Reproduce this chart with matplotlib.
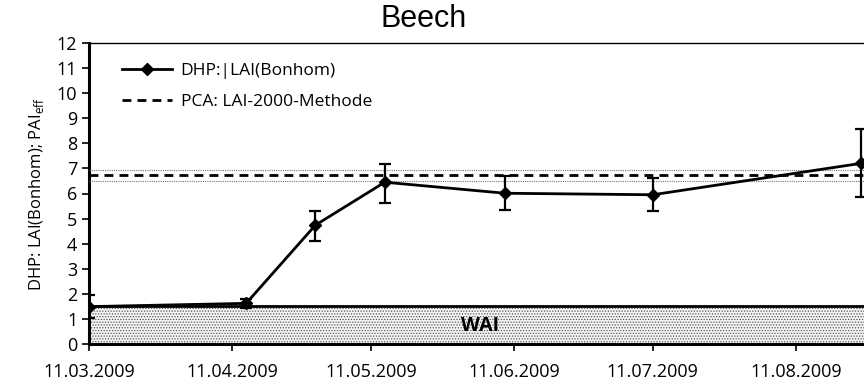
import matplotlib
matplotlib.use("Agg")
import matplotlib.pyplot as plt
import matplotlib.dates as mdates
import numpy as np
from datetime import datetime, timedelta

# Measurement dates and DHP LAI values (Bonhomme)
dates = ["2009-03-11", "2009-04-14", "2009-04-29", "2009-05-14",
         "2009-06-09", "2009-07-11", "2009-08-25"]
lai = [1.49, 1.62, 4.74, 6.45, 6.01, 5.95, 7.20]
lai_low = [1.04, 1.45, 4.11, 5.63, 5.34, 5.30, 5.85]
lai_high = [1.95, 1.79, 5.31, 7.17, 6.68, 6.62, 8.57]

# PCA (LAI-2000) mean and band, woody area index
pca_mean = 6.72
pca_band = [6.50, 6.94]
wai = 1.5

tick_dates = ["2009-03-11", "2009-04-11", "2009-05-11", "2009-06-11",
              "2009-07-11", "2009-08-11"]
x_start = "2009-03-11"
x_span_days = 167.7

to_dt = lambda s: datetime.fromisoformat(s)
x = [to_dt(d) for d in dates]
yerr = [np.array(lai) - np.array(lai_low), np.array(lai_high) - np.array(lai)]

plt.rcParams["font.family"] = ["Open Sans", "DejaVu Sans"]
fig = plt.figure(figsize=(8.64, 3.84), dpi=100)
ax = fig.add_axes([89 / 864, 1 - 344 / 384, 1 - 89 / 864, 301 / 384])

x0 = to_dt(x_start)
x1 = x0 + timedelta(days=x_span_days)
ax.set_xlim(x0, x1)
ax.set_ylim(0, 12)

# WAI stippled band
plt.rcParams["hatch.linewidth"] = 0.6
ax.fill_between([x0 - timedelta(days=5), x1 + timedelta(days=5)], 0, wai,
                facecolor="#f4f4f4", edgecolor="#555555", hatch="......",
                linewidth=0, zorder=1)
ax.axhline(wai, color="black", lw=2.0, zorder=2)
ax.text(x0 + (x1 - x0) * 0.505, 0.72, "WAI", ha="center", va="center",
        fontsize=14, fontweight="bold", zorder=3)

# PCA reference lines
ax.axhline(pca_mean, color="black", lw=2.0, ls=(0, (3.2, 2.2)), zorder=3,
           label="PCA: LAI-2000-Methode")
for b in pca_band:
    ax.axhline(b, color="#777777", lw=0.8, ls=(0, (1, 1)), zorder=3)

# DHP series with error bars
ax.errorbar(x, lai, yerr=yerr, fmt="none", ecolor="black", capsize=4.5,
            elinewidth=1.6, capthick=1.6, zorder=5)
ax.plot(x, lai, color="black", lw=2.0, marker="D", markersize=6.5,
        zorder=6, label="DHP:|LAI(Bonhom)")

ax.set_xticks([to_dt(d) for d in tick_dates])
ax.xaxis.set_major_formatter(mdates.DateFormatter("%d.%m.%Y"))
ax.set_yticks(range(0, 13))
ax.tick_params(axis="both", direction="out", length=5, width=1.2,
               labelsize=13)
ax.tick_params(axis="x", pad=9)

ax.spines["left"].set_linewidth(2.2)
ax.spines["bottom"].set_linewidth(2.2)
ax.spines["top"].set_linewidth(1.0)
ax.spines["right"].set_visible(False)

ax.set_ylabel("DHP: LAI(Bonhom); PAI$_\\mathregular{eff}$", fontsize=12,
              labelpad=8)
fig.suptitle("Beech", x=0.49, y=0.99, fontsize=22,
             family=["Liberation Sans", "DejaVu Sans"])

handles, labels = ax.get_legend_handles_labels()
order = [labels.index("DHP:|LAI(Bonhom)"), labels.index("PCA: LAI-2000-Methode")]
ax.legend([handles[i] for i in order], [labels[i] for i in order],
          loc="upper left", frameon=False, fontsize=12.5, handlelength=2.9,
          handletextpad=0.5, bbox_to_anchor=(0.022, 0.985), labelspacing=0.85)

fig.savefig("out.png", dpi=100)
